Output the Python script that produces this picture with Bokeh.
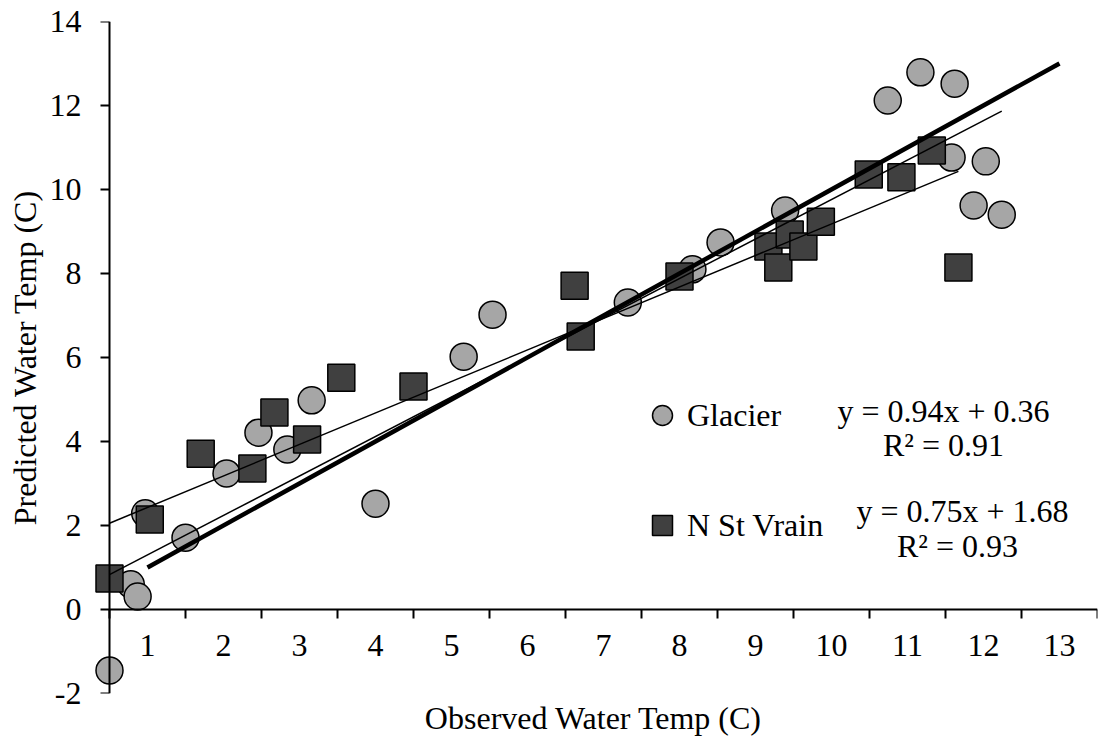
from bokeh.plotting import figure
from bokeh.models import (LinearAxis, FixedTicker, Legend, LegendItem, Label, Range1d)
from bokeh.embed import file_html
from bokeh.resources import INLINE

# ---------------- data ----------------
glacier_obs = [0.5, 0.78, 0.87, 0.97, 1.5, 2.04, 2.46, 2.84, 3.16, 4.0, 5.16, 5.54,
               7.32, 8.17, 8.54, 9.39, 10.74, 11.17, 11.62, 11.58, 12.03, 11.87, 12.24]
glacier_pred = [-1.45, 0.6, 0.31, 2.29, 1.71, 3.24, 4.21, 3.81, 4.98, 2.52, 6.02, 7.02,
                7.31, 8.10, 8.74, 9.5, 12.12, 12.79, 12.52, 10.76, 10.67, 9.62, 9.4]

vrain_obs = [0.5, 1.03, 1.70, 2.38, 2.67, 3.1, 3.55, 4.5, 6.62, 6.7, 8.0, 9.17, 9.3,
             9.45, 9.63, 9.86, 10.49, 10.92, 11.32, 11.67]
vrain_pred = [0.74, 2.14, 3.71, 3.36, 4.69, 4.05, 5.52, 5.31, 7.71, 6.5, 7.93, 8.64, 8.14,
              8.93, 8.64, 9.23, 10.36, 10.29, 10.93, 8.14]

# trendline coefficients (as printed on the chart)
glacier_fit = (0.94, 0.36)
vrain_fit = (0.75, 1.68)
glacier_r2 = 0.91
vrain_r2 = 0.93

# 1:1 reference line
one_to_one = [1, 13]

x_tick_labels = list(range(1, 14))
y_ticks = list(range(-2, 15, 2))

FONT = "Liberation Serif"
FS = "32px"


def dx(px):
    return (px - 109) / 76 + 0.5


def dy(py):
    return (610 - py) / 42


# ---------------- figure ----------------
p = figure(width=1099, height=740, output_backend="svg", toolbar_location=None,
           x_range=Range1d(dx(89), 13.5), y_range=Range1d(-2, 14),
           x_axis_type=None, y_axis_type=None,
           min_border_left=89, min_border_right=2,
           min_border_top=21, min_border_bottom=47)
p.outline_line_color = None
p.background_fill_color = "white"
p.border_fill_color = "white"

# y tick labels + title (panel on the left)
ya = LinearAxis(ticker=FixedTicker(ticks=y_ticks))
ya.major_label_overrides = {t: str(t) for t in y_ticks}
ya.axis_line_color = None
ya.major_tick_out = 0
ya.major_tick_in = 0
ya.minor_tick_out = 0
ya.minor_tick_in = 0
ya.major_label_standoff = 8
ya.major_label_text_font = FONT
ya.major_label_text_font_size = FS
ya.major_label_text_color = "black"
ya.axis_label = "Predicted Water Temp (C)"
ya.axis_label_text_font = FONT
ya.axis_label_text_font_size = FS
ya.axis_label_text_font_style = "normal"
ya.axis_label_text_color = "black"
ya.axis_label_standoff = 4
p.add_layout(ya, "left")

# y axis line + tick marks at x = 0.5
ya_line = LinearAxis(fixed_location=0.5, ticker=FixedTicker(ticks=y_ticks))
ya_line.major_label_overrides = {t: "" for t in y_ticks}
ya_line.axis_line_width = 2
ya_line.axis_line_color = "black"
ya_line.major_tick_line_width = 2
ya_line.major_tick_out = 9
ya_line.major_tick_in = 0
ya_line.minor_tick_out = 0
ya_line.minor_tick_in = 0
p.add_layout(ya_line, "left")

# x axis line + tick marks crossing at y = 0
tick_pos = [t - 0.5 for t in x_tick_labels] + [13.5]
xa_ticks = LinearAxis(fixed_location=0, ticker=FixedTicker(ticks=tick_pos), bounds=(0.5, 13.5))
xa_ticks.major_label_overrides = {t: "" for t in tick_pos}
xa_ticks.axis_line_width = 2
xa_ticks.major_tick_line_width = 2
xa_ticks.major_tick_out = 9
xa_ticks.major_tick_in = 0
xa_ticks.minor_tick_out = 0
xa_ticks.minor_tick_in = 0
p.add_layout(xa_ticks, "below")

# x labels centred between tick marks
xa_labels = LinearAxis(fixed_location=0, ticker=FixedTicker(ticks=x_tick_labels))
xa_labels.axis_line_color = None
xa_labels.major_tick_out = 0
xa_labels.major_tick_in = 0
xa_labels.minor_tick_out = 0
xa_labels.minor_tick_in = 0
xa_labels.major_label_standoff = 25
xa_labels.major_label_text_font = FONT
xa_labels.major_label_text_font_size = FS
xa_labels.major_label_text_color = "black"
p.add_layout(xa_labels, "below")

# x axis title
xa_title = LinearAxis(ticker=FixedTicker(ticks=[]))
xa_title.axis_line_color = None
xa_title.major_tick_out = 0
xa_title.minor_tick_out = 0
xa_title.axis_label = "Observed Water Temp (C)"
xa_title.axis_label_text_font = FONT
xa_title.axis_label_text_font_size = FS
xa_title.axis_label_text_font_style = "normal"
xa_title.axis_label_text_color = "black"
xa_title.axis_label_standoff = 6
p.add_layout(xa_title, "below")

# ---------------- marks ----------------
g = p.scatter(glacier_obs, glacier_pred, marker="circle", size=27,
              fill_color="#a6a6a6", line_color="black", line_width=1.5)
v = p.scatter(vrain_obs, vrain_pred, marker="square", size=27,
              fill_color="#404040", line_color="black", line_width=1.5)

# trendlines over the data ranges
gx = [min(glacier_obs), max(glacier_obs)]
p.line(gx, [glacier_fit[0] * x + glacier_fit[1] for x in gx], line_color="black", line_width=1.5)
vx = [min(vrain_obs), max(vrain_obs)]
p.line(vx, [vrain_fit[0] * x + vrain_fit[1] for x in vx], line_color="black", line_width=1.5)

# 1:1 line
p.line(one_to_one, one_to_one, line_color="black", line_width=4.5)

# legend
legend = Legend(items=[LegendItem(label="Glacier", renderers=[g]),
                       LegendItem(label="N St Vrain", renderers=[v])],
                location=(548, 143), glyph_width=50, glyph_height=50,
                label_standoff=0, spacing=60, padding=0, margin=0,
                border_line_color=None, background_fill_alpha=0,
                label_text_font=FONT, label_text_font_size=FS, label_text_color="black",
                label_height=30)
p.add_layout(legend, "center")

texts = [
    (f"y = {glacier_fit[0]:.2f}x + {glacier_fit[1]:.2f}", 943, 411),
    (f"R² = {glacier_r2:.2f}", 943, 445),
    (f"y = {vrain_fit[0]:.2f}x + {vrain_fit[1]:.2f}", 962, 511),
    (f"R² = {vrain_r2:.2f}", 957, 546),
]
for t, px, py in texts:
    p.add_layout(Label(x=dx(px), y=dy(py), text=t, text_align="center",
                       text_baseline="middle", text_font=FONT, text_font_size=FS,
                       text_color="black"))

open("out.html", "w").write(file_html(p, INLINE))
